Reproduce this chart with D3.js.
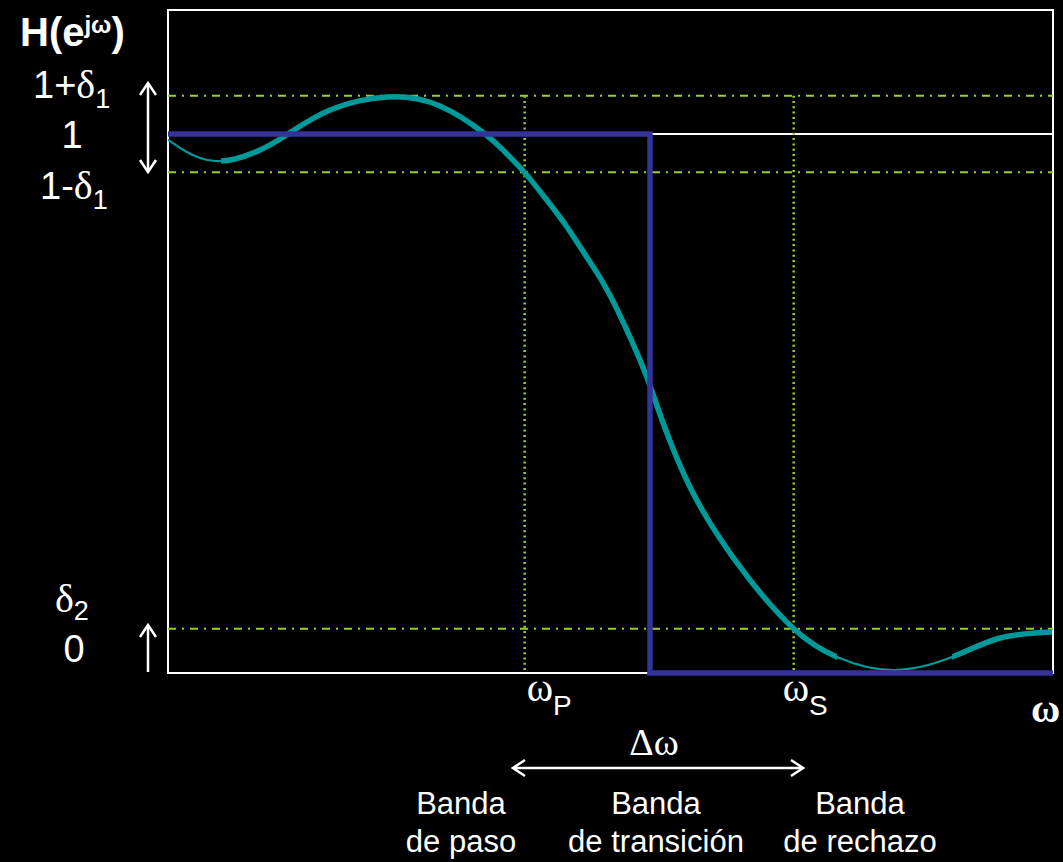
<!DOCTYPE html>
<html>
<head>
<meta charset="utf-8">
<script src="https://cdn.jsdelivr.net/npm/d3@7"></script>
<style>
  body { margin: 0; background: #000; }
  svg { display: block; }
  text { fill: #fff; font-family: "Liberation Sans", Arial, sans-serif; }
  .greek { font-family: "Liberation Serif", "Times New Roman", serif; }
</style>
</head>
<body>
<div id="graph"></div>
<script>
const w = 1063;
const h = 862;

// frequency response (omega normalised 0..1)
const omega = [0, 0.0192, 0.0362, 0.0531, 0.0757, 0.104, 0.1356, 0.1831, 0.2475, 0.3073, 0.3582, 0.3808, 0.4034, 0.4271, 0.4508, 0.4746, 0.4994, 0.5333, 0.5503, 0.5672, 0.5898, 0.6181, 0.6576, 0.7073, 0.7559, 0.8192, 0.8859, 0.9401, 0.9989];
const magnitude = [0.989, 0.9685, 0.9555, 0.9499, 0.9536, 0.9703, 1.0, 1.0445, 1.0686, 1.0519, 1.0, 0.9666, 0.9276, 0.8794, 0.8275, 0.7681, 0.7010, 0.5807, 0.5065, 0.4304, 0.3451, 0.2635, 0.1725, 0.0816, 0.0297, 0.0056, 0.0297, 0.0649, 0.0761];
// stretches where the curve is drawn thin
const thinBands = [[0, 0.060], [0.756, 0.886]];
// ideal low-pass
const idealOmega = [0, 0.5446, 0.5446, 1];
const idealMag = [1, 1, 0, 0];
const delta1 = 0.071;
const delta2 = 0.082;
const omegaP = 0.403;
const omegaS = 0.707;
const bandLabels = [["Banda", "de paso"], ["Banda", "de transición"], ["Banda", "de rechazo"]];
const bandCenters = [461, 656, 860];

const green = "#99cc33";
const teal = "#009999";
const blue = "#333399";

const svg = d3.select("#graph").append("svg").attr("width", w).attr("height", h);
svg.append("rect").attr("width", w).attr("height", h).attr("fill", "#000");

const x = d3.scaleLinear().domain([0, 1]).range([168, 1053]);
const y = d3.scaleLinear().domain([0, 1.23]).range([673, 10]);

const defs = svg.append("defs");
const arrowHead = defs.append("marker").attr("id", "head")
  .attr("viewBox", "0 0 20 20").attr("refX", 18).attr("refY", 10)
  .attr("markerWidth", 20).attr("markerHeight", 20).attr("markerUnits", "userSpaceOnUse")
  .attr("orient", "auto-start-reverse");
arrowHead.append("path").attr("d", "M6,2 L18,10 L6,18").attr("fill", "none")
  .attr("stroke", "#fff").attr("stroke-width", 2.5);

// frame and the "1" line
svg.append("rect")
  .attr("x", x(0)).attr("y", y(1.23))
  .attr("width", x(1) - x(0)).attr("height", y(0) - y(1.23))
  .attr("fill", "none").attr("stroke", "#fff").attr("stroke-width", 2);
svg.append("line")
  .attr("x1", x(0)).attr("x2", x(1)).attr("y1", y(1)).attr("y2", y(1))
  .attr("stroke", "#fff").attr("stroke-width", 2);

// tolerance lines
svg.selectAll(".tol").data([1 + delta1, 1 - delta1, delta2]).enter().append("line")
  .attr("x1", x(0)).attr("x2", x(1))
  .attr("y1", (d) => y(d)).attr("y2", (d) => y(d))
  .attr("stroke", green).attr("stroke-width", 2).attr("stroke-dasharray", "8,6,2,6");
svg.selectAll(".edge").data([omegaP, omegaS]).enter().append("line")
  .attr("x1", (d) => x(d)).attr("x2", (d) => x(d))
  .attr("y1", y(1 + delta1)).attr("y2", y(0))
  .attr("stroke", green).attr("stroke-width", 2.5).attr("stroke-dasharray", "2,3.3");

// real response
const pts = omega.map((o, i) => [o, magnitude[i]]);
const line = d3.line().x((d) => x(d[0])).y((d) => y(d[1])).curve(d3.curveNatural);

const thickRanges = [];
let start = 0;
thinBands.forEach((b) => {
  if (b[0] > start) thickRanges.push([start, b[0]]);
  start = b[1];
});
if (start < 1) thickRanges.push([start, 1]);
const clip = defs.append("clipPath").attr("id", "thick");
clip.selectAll("rect").data(thickRanges).enter().append("rect")
  .attr("x", (d) => x(d[0])).attr("width", (d) => x(d[1]) - x(d[0]))
  .attr("y", 0).attr("height", h);

svg.append("path").datum(pts).attr("d", line)
  .attr("fill", "none").attr("stroke", teal).attr("stroke-width", 2.2);
svg.append("path").datum(pts).attr("d", line).attr("clip-path", "url(#thick)")
  .attr("fill", "none").attr("stroke", teal).attr("stroke-width", 5.5);

// ideal response
const ideal = d3.line().x((d) => x(d[0])).y((d) => y(d[1]));
svg.append("path").datum(idealOmega.map((o, i) => [o, idealMag[i]])).attr("d", ideal)
  .attr("fill", "none").attr("stroke", blue).attr("stroke-width", 5.5);

// labels
const label = (tx, ty, parts, anchor) => {
  const t = svg.append("text").attr("x", tx).attr("y", ty).attr("text-anchor", anchor || "start");
  parts.forEach((p) => {
    const s = t.append("tspan").text(p.t).attr("font-size", p.size);
    if (p.greek) s.attr("class", "greek");
    if (p.dy) s.attr("dy", p.dy);
    if (p.bold) s.attr("font-weight", "bold");
  });
  return t;
};

label(20, 46, [
  { t: "H(e", size: 40, bold: true },
  { t: "jω", size: 24, bold: true, dy: -13 },
  { t: ")", size: 40, bold: true, dy: 13 },
]);
label(33, y(1 + delta1) + 2, [
  { t: "1+", size: 38 },
  { t: "δ", size: 40, greek: true },
  { t: "1", size: 27, dy: 10 },
]);
label(72, y(1) + 14, [{ t: "1", size: 38 }], "middle");
label(40, y(1 - delta1) + 27, [
  { t: "1-", size: 38 },
  { t: "δ", size: 40, greek: true },
  { t: "1", size: 27, dy: 10 },
]);
label(55, y(delta2) - 17, [
  { t: "δ", size: 40, greek: true },
  { t: "2", size: 27, dy: 8 },
]);
label(74, y(0) - 11, [{ t: "0", size: 38 }], "middle");

label(x(omegaP) + 2, 701, [
  { t: "ω", size: 40, greek: true },
  { t: "P", size: 28, dy: 14 },
]);
label(x(omegaS) - 11, 701, [
  { t: "ω", size: 40, greek: true },
  { t: "S", size: 28, dy: 14 },
]);
label(1031, 722, [{ t: "ω", size: 40, greek: true, bold: true }]);
label(654, 755, [{ t: "Δω", size: 38, greek: true }], "middle");

bandLabels.forEach((b, i) => {
  label(bandCenters[i], 814, [{ t: b[0], size: 31 }], "middle");
  label(bandCenters[i], 852, [{ t: b[1], size: 31 }], "middle");
});

// arrows
const arrow = (x1, y1, x2, y2, both) => {
  const l = svg.append("line").attr("x1", x1).attr("y1", y1).attr("x2", x2).attr("y2", y2)
    .attr("stroke", "#fff").attr("stroke-width", 2.5).attr("marker-end", "url(#head)");
  if (both) l.attr("marker-start", "url(#head)");
};
arrow(148, 172, 148, 83, true);
arrow(148, 672, 148, 625, false);
arrow(513, 768, 803, 768, true);
</script>
</body>
</html>
